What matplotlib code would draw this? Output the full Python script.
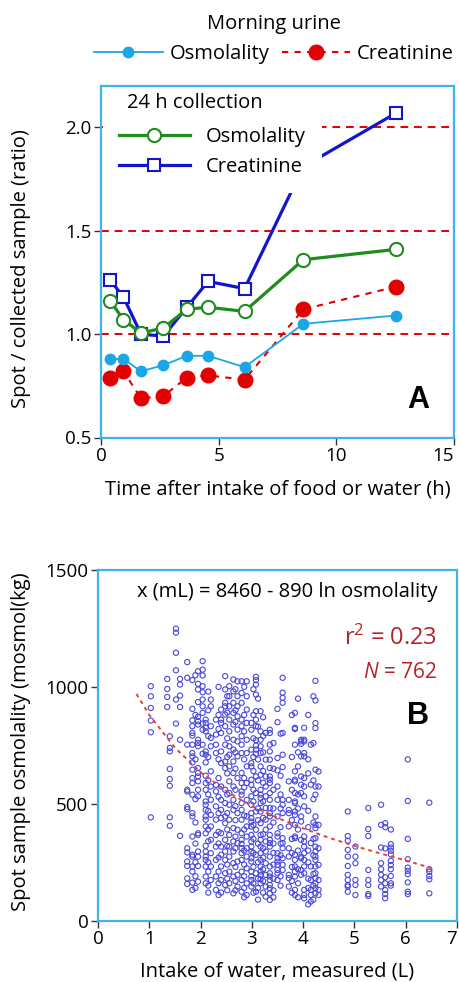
import matplotlib
matplotlib.use("Agg")
import matplotlib.pyplot as plt

plt.rcParams['font.family'] = ['Open Sans', 'DejaVu Sans']
plt.rcParams['mathtext.fontset'] = 'custom'
plt.rcParams['mathtext.rm'] = 'Open Sans'
plt.rcParams['mathtext.it'] = 'Open Sans:italic'

# ---------------- Panel A data ----------------
hours = [0.4, 0.95, 1.7, 2.65, 3.65, 4.55, 6.1, 8.6, 12.55]
morning_osm = [0.88, 0.88, 0.82, 0.85, 0.895, 0.895, 0.84, 1.05, 1.09]
morning_creat = [0.79, 0.82, 0.69, 0.70, 0.79, 0.80, 0.78, 1.12, 1.23]
coll_osm = [1.16, 1.07, 1.005, 1.03, 1.12, 1.13, 1.11, 1.36, 1.41]
coll_creat = [1.26, 1.18, 1.0, 0.99, 1.13, 1.255, 1.22, 1.81, 2.07]
ref_levels = [1.0, 1.5, 2.0]
a_xticks = [0, 5, 10, 15]
a_yticks = [0.5, 1.0, 1.5, 2.0]

# ---------------- Panel B data ----------------
fit_x = [0.75, 1.0, 1.5, 2.0, 2.5, 3.0, 3.5, 4.0, 4.5, 5.0, 5.5, 6.0, 6.5]
fit_y = [970, 880, 740, 635, 555, 490, 440, 395, 355, 320, 288, 258, 225]

water_cols = [1.03, 1.35, 1.4, 1.52, 1.6, 1.74, 1.84, 1.9, 1.95, 2.04, 2.1, 2.15,
              2.2, 2.3, 2.35, 2.4, 2.48, 2.52, 2.56, 2.64, 2.68, 2.72, 2.8, 2.85,
              2.9, 2.99, 3.03, 3.08, 3.12, 3.17, 3.22, 3.27, 3.35, 3.42,
              3.5, 3.56, 3.6, 3.72, 3.78, 3.84, 3.9, 3.96, 4.02, 4.1, 4.15, 4.2,
              4.24, 4.3,
              4.87, 5.02, 5.27, 5.52, 5.6, 5.71, 6.04, 6.46]
osm_cols = [
    [1003, 960, 910, 856, 806, 442],
    [1034, 991, 957, 914],
    [789, 739, 724, 649, 606, 577, 442, 406],
    [1249, 1232, 1146, 1071, 946, 843],
    [1034, 1010, 963, 914, 774, 363],
    [1106, 1039, 753, 560, 553, 486, 477, 310, 292, 253, 234, 181, 157],
    [1029, 906, 857, 832, 803, 792, 753, 717, 703, 677, 646, 610, 589, 539, 460, 446,
     360, 282, 274, 232, 210, 163, 132],
    [1050, 880, 690, 520, 420, 330, 250, 190, 140],
    [1067, 1013, 989, 935, 872, 853, 839, 774, 760, 746, 653, 632, 617, 596, 560, 532,
     374, 367, 296, 274, 234, 167],
    [1110, 1074, 1049, 1003, 977, 946, 917, 889, 843, 817, 753, 714],
    [860, 846, 825, 810, 724, 710, 677, 620, 589, 560, 510, 496, 474, 446, 432, 403,
     374, 320, 296, 274, 260, 232, 189, 160],
    [980, 900, 790, 700, 600, 540, 470, 390, 340, 250, 210, 150, 120],
    [946, 917, 832, 782, 746, 639, 574, 517, 453, 403, 346, 289, 232, 174],
    [860, 796, 753, 717, 581, 553, 489, 432, 367, 317, 260, 189, 132],
    [1000, 880, 820, 690, 610, 530, 460, 380, 330, 270, 210, 160, 110],
    [903, 860, 846, 803, 724, 674, 574, 517, 474, 439, 374, 317, 282, 232, 174, 120],
    [1046, 989, 932, 917, 882, 832, 753, 681, 653, 560, 503, 446, 417, 346, 296, 260,
     203, 153],
    [960, 890, 780, 700, 630, 540, 460, 390, 320, 240, 180, 130],
    [1003, 960, 917, 860, 810, 746, 710, 660, 596, 546, 496, 432, 367, 317, 274, 210, 160],
    [1032, 981, 932, 889, 839, 774, 732, 681, 632, 574, 517, 474, 396, 339, 296, 246,
     189, 117],
    [990, 900, 850, 720, 650, 560, 490, 430, 360, 310, 230, 170, 130],
    [1024, 960, 917, 874, 817, 767, 703, 610, 460, 389, 332, 253, 196, 146],
    [1024, 974, 932, 860, 832, 789, 753, 717, 632, 589, 553, 539, 503, 474, 432, 374,
     346, 329, 310, 289, 260, 210, 174, 124],
    [1000, 880, 810, 690, 610, 570, 450, 390, 300, 240, 190, 140, 100],
    [1024, 960, 903, 846, 774, 717, 660, 589, 517, 446, 403, 360, 310, 274, 224, 160, 110],
    [846, 817, 732, 674, 660, 603, 581, 532, 496, 460, 439, 424, 403, 367, 339, 317,
     296, 267, 253, 210, 189, 174, 146],
    [990, 880, 780, 700, 640, 560, 510, 410, 350, 290, 230, 160, 120],
    [1043, 1029, 1010, 967, 896, 860, 832, 772, 749, 732, 714, 617, 546, 467, 389, 282,
     203, 124],
    [950, 830, 690, 600, 480, 430, 330, 250, 180, 140, 90],
    [896, 810, 774, 746, 717, 660, 624, 560, 539, 525, 503, 467, 417, 367, 346, 317,
     289, 260, 232, 210, 196, 177, 160],
    [870, 790, 720, 640, 590, 510, 440, 370, 310, 270, 220, 170, 120],
    [803, 689, 617, 574, 532, 482, 432, 389, 339, 296, 246, 196, 146, 103],
    [817, 803, 753, 724, 689, 653, 617, 603, 589, 546, 517, 482, 460, 446, 403, 367,
     346, 332, 317, 274, 232, 203, 189, 174, 153, 139, 117, 89],
    [760, 650, 560, 480, 420, 330, 290, 240, 180, 130, 100],
    [906, 849, 696, 643, 574, 517, 446, 374, 360, 289, 267, 253, 239, 217, 203, 174],
    [800, 620, 540, 480, 400, 330, 280, 190, 150],
    [1039, 975, 953, 932, 803, 710, 657, 517, 496, 460, 353, 332, 310, 267, 239, 217],
    [596, 517, 474, 460, 403, 310, 274, 196, 182, 146],
    [880, 700, 560, 430, 350, 290, 230, 170, 120],
    [889, 825, 820, 753, 639, 603, 596, 546, 510, 503, 467, 453, 410, 360, 353, 282,
     260, 232, 210, 189, 132, 110],
    [950, 720, 660, 540, 480, 390, 300, 220, 160, 100],
    [774, 767, 757, 703, 617, 582, 546, 446, 424, 346, 274, 267, 217, 196],
    [825, 774, 767, 717, 703, 610, 574, 532, 489, 360, 339, 317, 289, 260, 232, 203,
     132, 110, 96],
    [880, 690, 630, 470, 400, 300, 250, 180, 140, 70],
    [753, 582, 332, 232, 174, 132, 110, 82],
    [960, 760, 600, 520, 420, 350, 280, 200, 150, 90],
    [1026, 942, 845, 824, 646, 574, 539, 446, 410, 396, 353, 317, 296, 274, 260, 232,
     203, 182, 160, 139, 117],
    [638, 574, 410, 310, 239, 174, 132, 110],
    [467, 362, 342, 303, 274, 234, 196, 174, 153, 146, 124],
    [317, 274, 246, 174, 153, 110],
    [482, 392, 362, 217, 174, 153, 114, 106],
    [496, 410, 313, 246, 220, 196, 174, 146],
    [417, 400, 309, 186, 160, 131, 114, 96],
    [390, 327, 313, 299, 284, 256, 238, 220, 191, 160, 150],
    [690, 512, 350, 263, 227, 213, 199, 164, 124, 114],
    [505, 220, 209, 191, 177, 117],
]
b_xticks = [0, 1, 2, 3, 4, 5, 6, 7]
b_yticks = [0, 500, 1000, 1500]

# ---------------- styles ----------------
SPINE = '#3DB5EA'
LBLUE = '#1BA6E6'
RED = '#E30000'
GREEN = '#1E8C1E'
BLUE = '#1414CC'
DARKRED = '#B5232A'
SCAT = '#4848D8'
FS_T = 13.5   # tick labels
FS = 14.5     # other texts

fig = plt.figure(figsize=(4.6, 9.82), dpi=100)
axA = fig.add_axes([101/460, 1-437.5/982, 353/460, 351.5/982])
axB = fig.add_axes([98/460, 1-920.7/982, 359/460, 350.7/982])

for ax in (axA, axB):
    for s in ax.spines.values():
        s.set_color(SPINE)
        s.set_linewidth(1.6)
        s.set_zorder(20)
    ax.tick_params(direction='out', length=5, width=1, color='#333333',
                   labelsize=FS_T, pad=2, top=False, right=False)

# ---------------- Panel A ----------------
for lv in ref_levels:
    axA.axhline(lv, color=RED, ls=(0, (4, 3)), lw=1.4, zorder=1)
lc, = axA.plot(hours, coll_creat, color=BLUE, lw=2.3, marker='s', ms=9,
               mfc='white', mec=BLUE, mew=1.5, zorder=3)
lo, = axA.plot(hours, coll_osm, color=GREEN, lw=2.3, marker='o', ms=9.5,
               mfc='white', mec=GREEN, mew=1.5, zorder=4)
mc, = axA.plot(hours, morning_creat, color=RED, ls=(0, (3, 3)), lw=1.5, marker='o',
               ms=10.5, mfc=RED, mec=RED, zorder=5)
mo, = axA.plot(hours, morning_osm, color=LBLUE, lw=1.3, marker='o', ms=7.5,
               mfc=LBLUE, mec=LBLUE, zorder=6)

axA.set_xlim(0, 15)
axA.set_ylim(0.5, 2.2)
axA.set_xticks(a_xticks)
axA.set_yticks(a_yticks)
axA.set_yticklabels([f'{v:.1f}' for v in a_yticks])
axA.get_xticklabels()[-1].set_horizontalalignment('right')
axA.set_xlabel('Time after intake of food or water (h)', fontsize=FS)
axA.set_ylabel('Spot / collected sample (ratio)', fontsize=FS)
axA.xaxis.set_label_coords(0.5, -0.12)
axA.yaxis.set_label_coords(-0.198, 0.48)

leg = axA.legend(handles=[lo, lc], labels=['Osmolality', 'Creatinine'],
                 loc='upper left', bbox_to_anchor=(0.006, 0.93),
                 frameon=True, facecolor='white', edgecolor='none', framealpha=1,
                 fontsize=FS, handlelength=3.5, handletextpad=0.8,
                 labelspacing=0.5, borderpad=0.8, borderaxespad=0.0)
leg.set_zorder(10)
axA.text(0.074, 0.952, '24 h collection', transform=axA.transAxes, ha='left',
         va='center', fontsize=FS, zorder=11)

axA.text(0.90, 0.107, 'A', transform=axA.transAxes, ha='center', va='center',
         fontsize=22, fontweight='bold', family='Liberation Sans')

fig.legend(handles=[mo, mc], labels=['Osmolality', 'Creatinine'], title='Morning urine',
           loc='center', bbox_to_anchor=(274/460, 1-39/982), ncol=2, frameon=False,
           fontsize=FS, title_fontsize=FS, handlelength=3.4, handletextpad=0.35,
           columnspacing=0.6, labelspacing=0.5, borderpad=0.2)

# ---------------- Panel B ----------------
for x, ys in zip(water_cols, osm_cols):
    axB.scatter([x] * len(ys), ys, s=14, facecolors='none', edgecolors=SCAT,
                linewidths=0.8, zorder=3)
axB.plot(fit_x, fit_y, color='#E8403C', ls=(0, (2, 2)), lw=1.4, zorder=4)

axB.set_xlim(0, 7)
axB.set_ylim(0, 1500)
axB.set_xticks(b_xticks)
axB.set_yticks(b_yticks)
axB.get_xticklabels()[-1].set_horizontalalignment('right')
axB.set_xlabel('Intake of water, measured (L)', fontsize=FS)
axB.set_ylabel('Spot sample osmolality (mosmol(kg)', fontsize=FS)
axB.xaxis.set_label_coords(0.5, -0.115)
axB.yaxis.set_label_coords(-0.186, 0.51)

axB.text(0.526, 0.937, 'x (mL) = 8460 - 890 ln osmolality', transform=axB.transAxes,
         ha='center', va='center', fontsize=FS)
axB.text(0.944, 0.806, r'r$^2$ = 0.23', transform=axB.transAxes, ha='right',
         va='center', fontsize=17, color=DARKRED)
axB.text(0.944, 0.709, r'$N$ = 762', transform=axB.transAxes, ha='right',
         va='center', fontsize=15, color=DARKRED)
axB.text(0.891, 0.584, 'B', transform=axB.transAxes, ha='center', va='center',
         fontsize=22, fontweight='bold', family='Liberation Sans')

fig.savefig('out.png', dpi=100)
